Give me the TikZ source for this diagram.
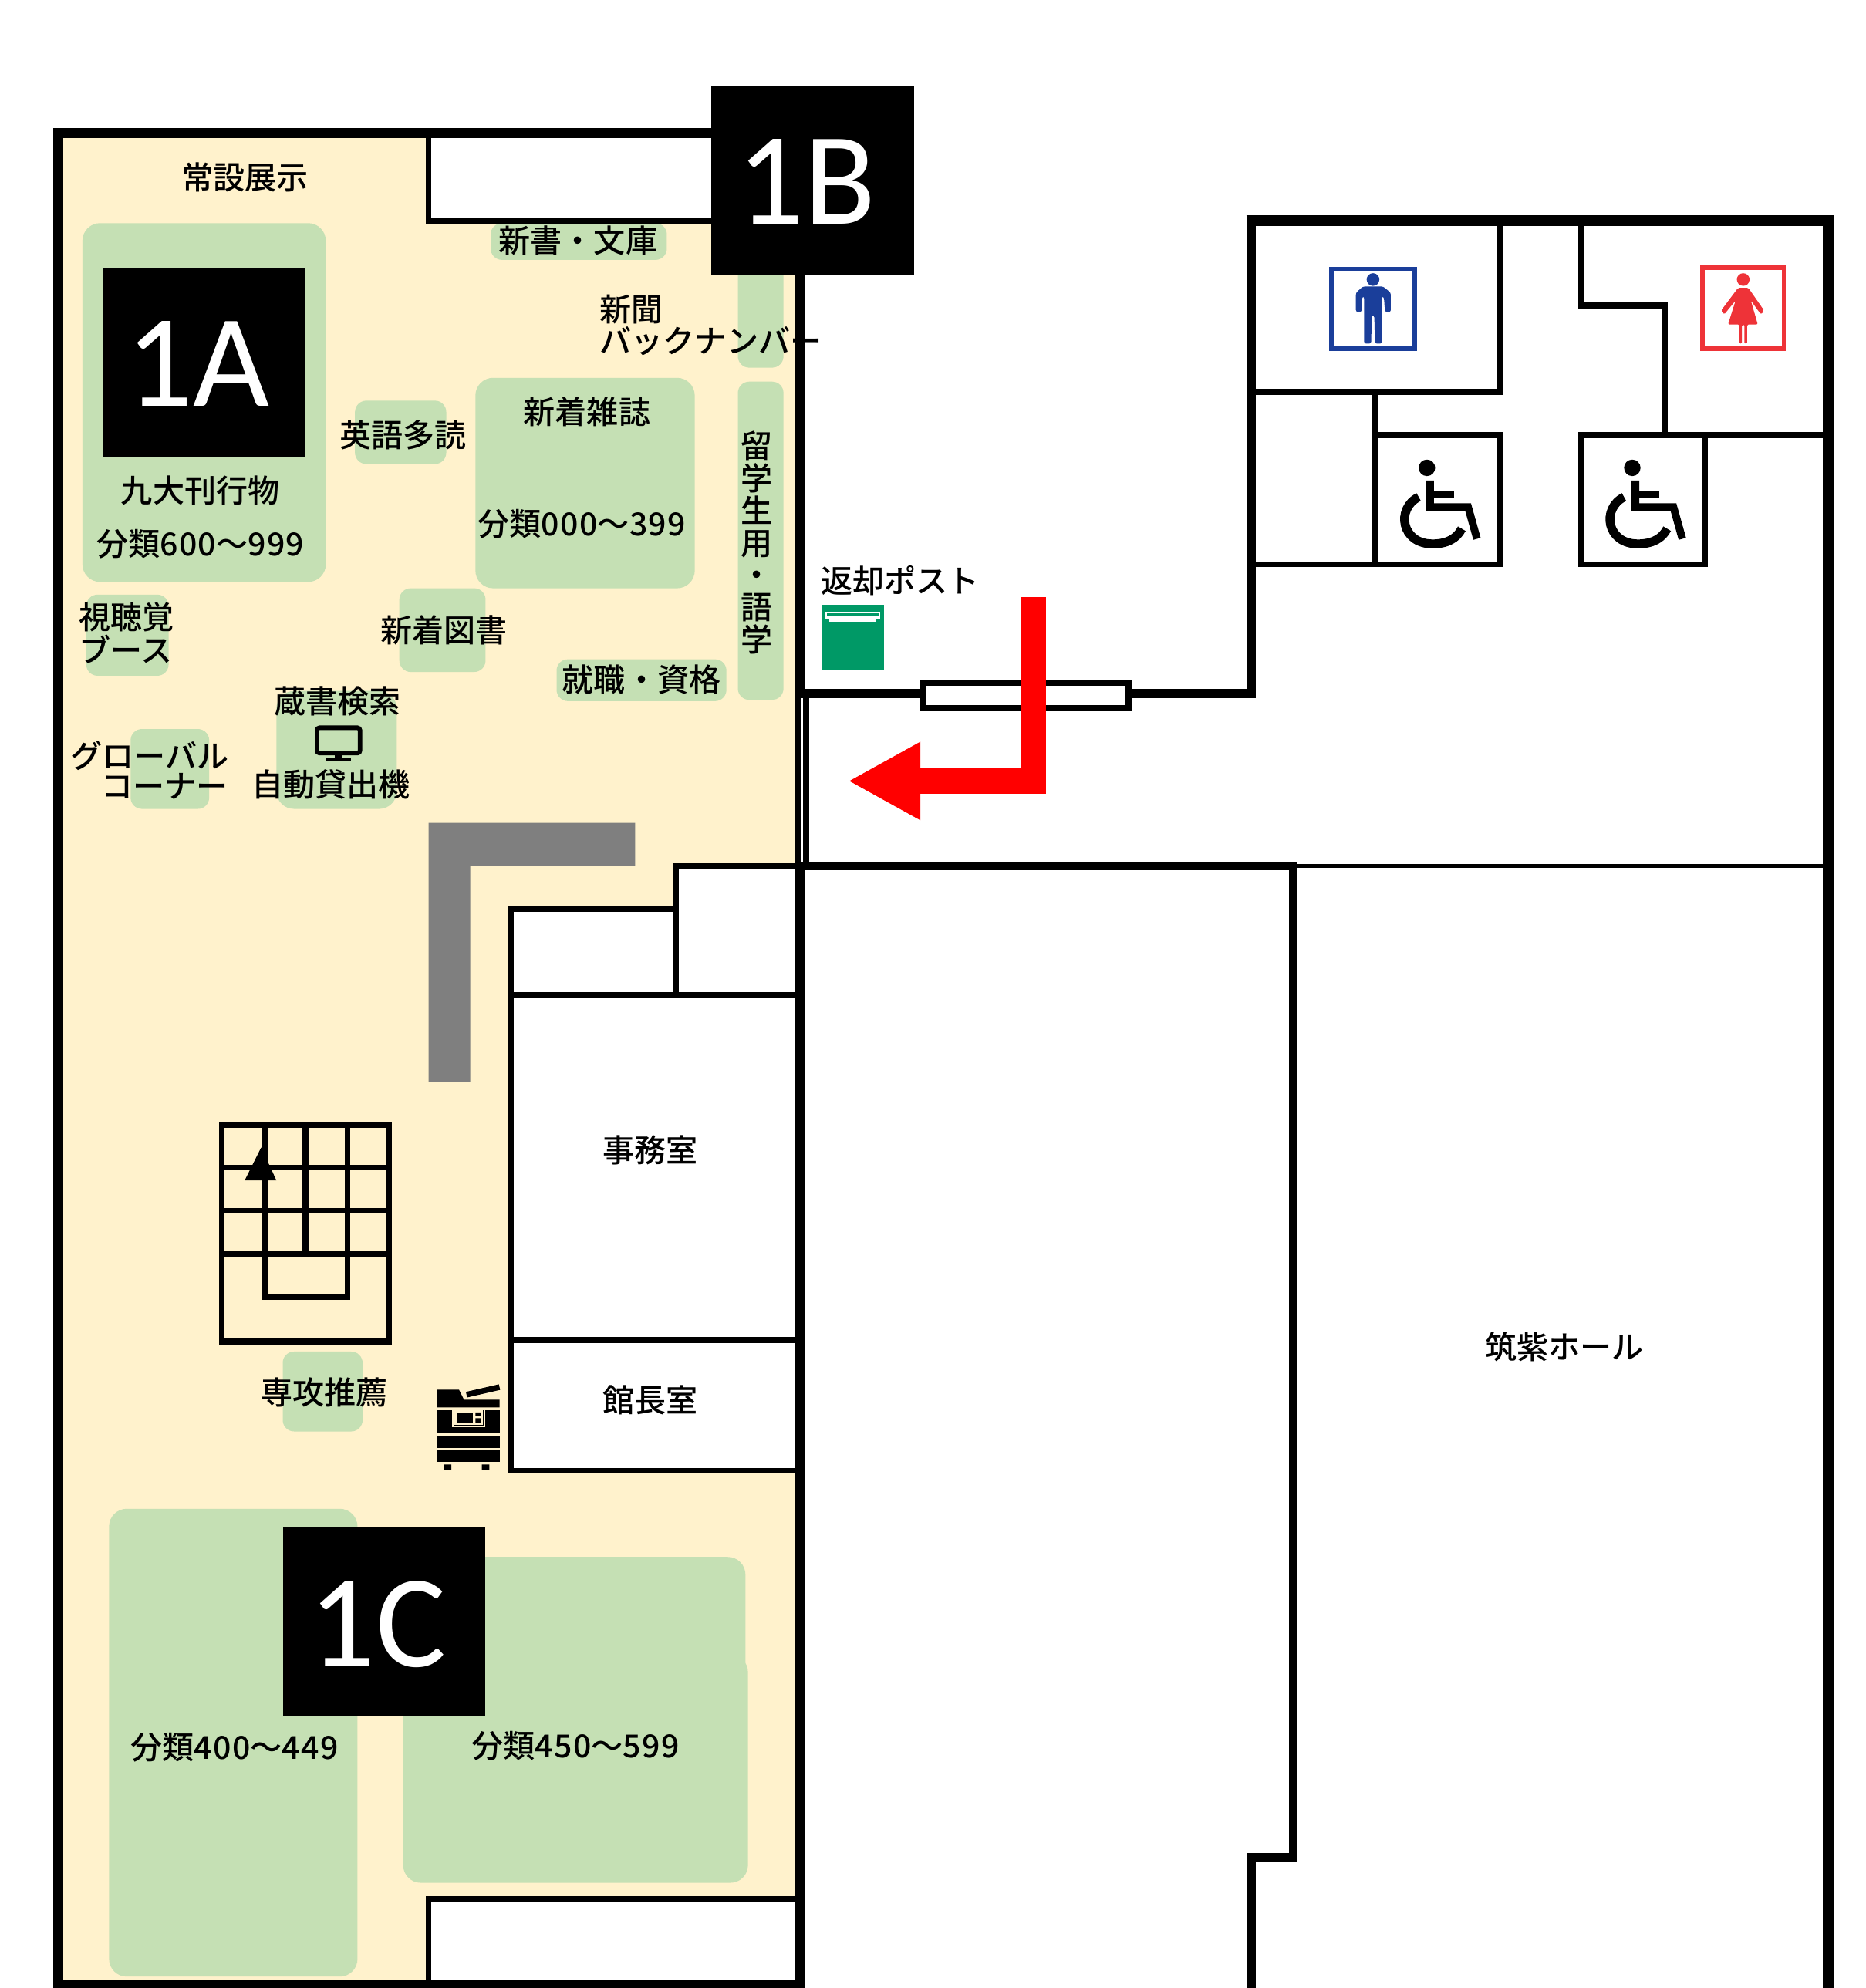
\documentclass[tikz,border=0pt]{standalone}
\usepackage{fontspec}
\setmainfont{Noto Sans CJK JP Medium}
\newfontfamily\latinbig{Carlito}
\definecolor{cream}{HTML}{FFF2CC}
\definecolor{shelf}{HTML}{C5E0B4}
\definecolor{grayblock}{HTML}{7F7F7F}
\definecolor{postgreen}{HTML}{009966}
\definecolor{manblue}{HTML}{1A3E9A}
\definecolor{womanred}{HTML}{EE3338}
\newcommand{\dg}[1]{{\addfontfeature{LetterSpace=3.3}#1}}
\newcommand{\tagtext}[1]{\kern-10pt\raisebox{-35pt}[0pt][0pt]{#1}}
\tikzset{
  shelfbox/.style={fill=shelf,rounded corners=#1},
  shelfbox/.default=9pt,
  thick wall/.style={draw=black,line width=8pt},
  mid wall/.style={draw=black,line width=7pt},
  thin wall/.style={draw=black,line width=4.6pt},
  lbl/.style={font=\fontsize{25}{27}\selectfont,inner sep=0pt,text=black},
  tag/.style={fill=black,text=white,font=\latinbig\fontsize{104}{104}\selectfont,inner sep=0pt,minimum width=160pt,minimum height=149pt},
  stair/.style={draw=black,line width=4.6pt},
  wheel/.style={draw=black,line width=6pt}
}
\newcommand{\wheelchair}[2]{%
  \begin{scope}[shift={(#1,#2)}]
    \fill (-7.5,-34) circle (6.5);
    \draw[wheel] (-5,-24) -- (-5,-3) -- (25,-3) -- (32,22);
    \draw[wheel] (-5,-13) -- (14,-13);
    \draw[wheel,line width=7pt] (-14,-11) .. controls (-32,-2) and (-28,26) .. (-3,26) .. controls (8,26) and (16,22) .. (20,14);
  \end{scope}}
\begin{document}
\begin{tikzpicture}[x=1pt,y=-1pt,line join=miter]
\useasboundingbox (0,0) rectangle (1471.3,1568);
% floor
\fill[cream] (46,105) rectangle (631,1568);
% shelves
\fill[shelfbox=14pt] (65,176) rectangle (257,459);
\fill[shelfbox] (387,176) rectangle (526,205);
\fill[shelfbox] (582,200) rectangle (618,290);
\fill[shelfbox] (582,301) rectangle (618,552);
\fill[shelfbox] (280,316) rectangle (352,366);
\fill[shelfbox=14pt] (375,298) rectangle (548,464);
\fill[shelfbox] (68,469) rectangle (133,533);
\fill[shelfbox] (315,464) rectangle (383,530);
\fill[shelfbox] (439,520) rectangle (573,553);
\fill[shelfbox=14pt] (218,545) rectangle (313,638);
\fill[shelfbox] (103,575) rectangle (165,638);
\fill[shelfbox] (223,1066) rectangle (286,1129);
\fill[shelfbox=14pt] (86,1190) rectangle (282,1559);
\fill[shelfbox=14pt] (340,1228) rectangle (588,1400);
\fill[shelfbox=14pt] (318,1305) rectangle (590,1485);
% gray L
\fill[grayblock] (338,649) -- (501,649) -- (501,683) -- (371,683) -- (371,853) -- (338,853) -- cycle;
% small rooms
\filldraw[fill=white,thin wall] (338,105) rectangle (570,174);
\filldraw[fill=white,thin wall] (338,1498) rectangle (631,1570);
\filldraw[fill=white,thin wall] (533,683) rectangle (631,785);
\filldraw[fill=white,thin wall] (403,717) rectangle (533,785);
\filldraw[fill=white,thin wall] (403,785) rectangle (631,1057);
\filldraw[fill=white,thin wall] (403,1057) rectangle (631,1160);
% stairs
\draw[stair] (175,887) rectangle (307,1058);
\draw[stair] (175,921) -- (307,921) (175,955) -- (307,955) (175,989) -- (307,989);
\draw[stair] (209,887) -- (209,1023) -- (274,1023) -- (274,887) (241,887) -- (241,989);
\fill (206,905) -- (218,931) -- (193,931) -- cycle;
% outer walls
\draw[thick wall] (631,549) -- (631,105) -- (46,105) -- (46,1565) -- (631,1565);
\draw[black,line width=5pt] (629.2,547) -- (629.2,683) (635.8,547) -- (635.8,683);
\draw[thick wall] (631,683) -- (631,1568);
\draw[mid wall] (631,683) -- (1023,683);
\draw[black,line width=3.5pt] (1020,683) -- (1445,683);
\draw[mid wall] (1020,683) -- (1020,1465) -- (987,1465) -- (987,1568);
\draw[mid wall] (631,547) -- (987,547) -- (987,174);
\draw[thick wall] (983,174) -- (1442,174) -- (1442,1568);
% window
\filldraw[fill=white,draw=black,line width=5pt] (728,538.5) rectangle (890,558.5);
% toilets
\draw[thin wall] (987,309) -- (1183,309) -- (1183,174);
\draw[thin wall] (1085,309) -- (1085,445);
\draw[thin wall] (1085,343) -- (1183,343) -- (1183,447);
\draw[thin wall] (987,445) -- (1183,445);
\draw[thin wall] (1247,174) -- (1247,241) -- (1313,241) -- (1313,343);
\draw[thin wall] (1442,343) -- (1247,343) -- (1247,445) -- (1345,445) -- (1345,343);
% man sign
\draw[manblue,line width=3.5pt,fill=white] (1050,212) rectangle (1116,275);
\fill[manblue] (1083,220.5) circle (5);
\fill[manblue,rounded corners=1.5pt] (1075,226) -- (1091,226) -- (1097,231) -- (1097,246) -- (1092.5,246) -- (1091.5,234) -- (1090,234) -- (1090,271) -- (1084.5,271) -- (1084,249) -- (1082,249) -- (1081.5,271) -- (1076,271) -- (1076,234) -- (1074.5,234) -- (1074,246) -- (1069.5,246) -- (1069.5,231) -- cycle;
% woman sign
\draw[womanred,line width=3.5pt,fill=white] (1343,211) rectangle (1407,275);
\fill[womanred] (1375,220.5) circle (5);
\fill[womanred,rounded corners=1pt] (1371,227) -- (1379,227) -- (1391.5,245) -- (1389,248) -- (1381,237) -- (1386.5,256) -- (1378,256) -- (1378,271) -- (1376,271) -- (1376,256) -- (1374,256) -- (1374,271) -- (1372,271) -- (1372,256) -- (1363,256) -- (1369,237) -- (1360,248) -- (1357.5,245) -- cycle;
% wheelchairs
\wheelchair{1133}{403}
\wheelchair{1295}{403}
% return post
\fill[postgreen] (648,477) rectangle (697,529);
\draw[white,line width=1.5pt] (651.5,483) rectangle (693.5,487);
\fill[white] (654,487) rectangle (691,490.5);
% red arrow
\fill[red] (805,471) -- (825,471) -- (825,626) -- (726,626) -- (726,647) -- (670,616) -- (726,585) -- (726,606) -- (805,606) -- cycle;
% monitor
\draw[black,line width=3.5pt,rounded corners=2pt] (250,574) rectangle (284,594);
\fill (264,594) rectangle (270,598);
\fill (257,598) rectangle (277,600.5);
% copier
\fill (345,1096) -- (362,1096) -- (366,1104) -- (394,1104) -- (394,1110) -- (345,1110) -- cycle;
\draw[black,line width=4.5pt] (368,1100) -- (394,1094);
\fill (345,1112) rectangle (394,1130);
\draw[cream,line width=1.5pt] (357,1111) -- (357,1125) -- (382,1125) -- (382,1111);
\fill[cream] (358,1112) rectangle (381,1124);
\fill (360,1114) rectangle (373,1122);
\fill (375,1114) rectangle (379,1117) (375,1118.5) rectangle (379,1122);
\fill (345,1133) rectangle (394,1142);
\fill (345,1144) rectangle (394,1153);
\fill (350,1155) rectangle (356,1159) (380,1155) rectangle (386,1159);
% tags
\node[tag] (tagA) at (161,285.5) {\tagtext{1A}};
\node[tag] (tagB) at (641,142) {\tagtext{1B}};
\node[tag] (tagC) at (303,1279.5) {\tagtext{1C}};
% labels
\node[lbl] (n1) at (193,140) {常設展示};
\node[lbl] (n2) at (456,190) {新書・文庫};
\node[lbl,anchor=west] (n3) at (473,244) {新聞};
\node[lbl,anchor=west] (n4) at (473,269) {バックナンバー};
\node[lbl] (n5) at (318,343) {英語多読};
\node[lbl] (n6) at (463,325) {新着雑誌};
\node[lbl] (n7) at (459,413) {分類\dg{000}～\dg{399}};
\node[lbl] (n8) at (158,387) {九大刊行物};
\node[lbl] (n9) at (158,429) {分類\dg{600}～\dg{999}};
\node[lbl] (n10) at (100,487) {視聴覚};
\node[lbl] (n11) at (99,512) {ブース};
\node[lbl] (n12) at (350,497) {新着図書};
\node[lbl] (n13) at (506,536) {就職・資格};
\node[lbl] (n14) at (266,553) {蔵書検索};
\node[lbl] (n15) at (261,619) {自動貸出機};
\node[lbl] (n16) at (118,596) {グローバル};
\node[lbl,anchor=east] (n17) at (180,620) {コーナー};
\node[lbl] (n18) at (513,907) {事務室};
\node[lbl] (n19) at (513,1104) {館長室};
\node[lbl] (n20) at (256,1098) {専攻推薦};
\node[lbl] (n21) at (185,1378) {分類\dg{400}～\dg{449}};
\node[lbl] (n22) at (454,1377) {分類\dg{450}～\dg{599}};
\node[lbl] (n23) at (1234,1062) {筑紫ホール};
\node[lbl] (n24) at (710,458) {返却ポスト};
\node[lbl,align=center,font=\fontsize{25}{25.4}\selectfont] (n25) at (597,428) {留\\学\\生\\用\\・\\語\\学};
\end{tikzpicture}
\end{document}
